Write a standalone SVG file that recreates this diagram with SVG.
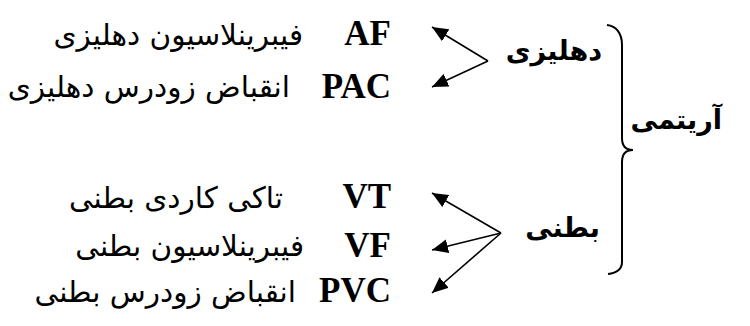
<svg xmlns="http://www.w3.org/2000/svg" width="750" height="326" viewBox="0 0 750 326">
<style>
.lat{font-family:"Liberation Serif","Times New Roman",serif;font-weight:bold;font-size:35px;fill:#000;text-anchor:end}
.fa{font-family:"DejaVu Sans",sans-serif;font-size:29.5px;fill:#000;text-anchor:end}
.fab{font-family:"DejaVu Sans",sans-serif;font-weight:bold;font-size:27px;fill:#000;text-anchor:end}
.ln{stroke:#000;stroke-width:1.6;fill:none;marker-end:url(#ah)}
</style>
<defs>
<marker id="ah" markerUnits="userSpaceOnUse" markerWidth="18" markerHeight="14" refX="16" refY="7" orient="auto">
<path d="M0,0 L16,7 L0,14 Z" fill="#000"/>
</marker>
</defs>
<g id="connectors">
<line class="ln" x1="488" y1="61" x2="432" y2="27"/>
<line class="ln" x1="488" y1="61" x2="432" y2="87"/>
<line class="ln" x1="501" y1="233" x2="432" y2="193"/>
<line class="ln" x1="501" y1="233" x2="432" y2="250"/>
<line class="ln" x1="501" y1="233" x2="432" y2="293"/>
<path d="M607,25 C616,26 622,33 622,45 L622,138 C622,146 626,150 633,150 C626,150 622,154 622,162 L622,262 C622,270 616,273 608,274" stroke="#000" stroke-width="2" fill="none"/>
</g>
<g id="arrhythmia"><text class="fab" x="722" y="129">آریتمی</text></g>
<g id="atrial"><text class="fab" x="602" y="60">دهلیزی</text></g>
<g id="ventricular"><text class="fab" x="600" y="237">بطنی</text></g>
<g id="af"><text class="lat" x="391" y="45">AF</text><text class="fa" x="303" y="45">فیبرینلاسیون دهلیزی</text></g>
<g id="pac"><text class="lat" x="391" y="98">PAC</text><text class="fa" x="290" y="97">انقباض زودرس دهلیزی</text></g>
<g id="vt"><text class="lat" x="391" y="208">VT</text><text class="fa" x="283" y="208">تاکی کاردی بطنی</text></g>
<g id="vf"><text class="lat" x="391" y="257">VF</text><text class="fa" x="304" y="256">فیبرینلاسیون بطنی</text></g>
<g id="pvc"><text class="lat" x="391" y="302">PVC</text><text class="fa" x="296" y="302">انقباض زودرس بطنی</text></g>
</svg>
